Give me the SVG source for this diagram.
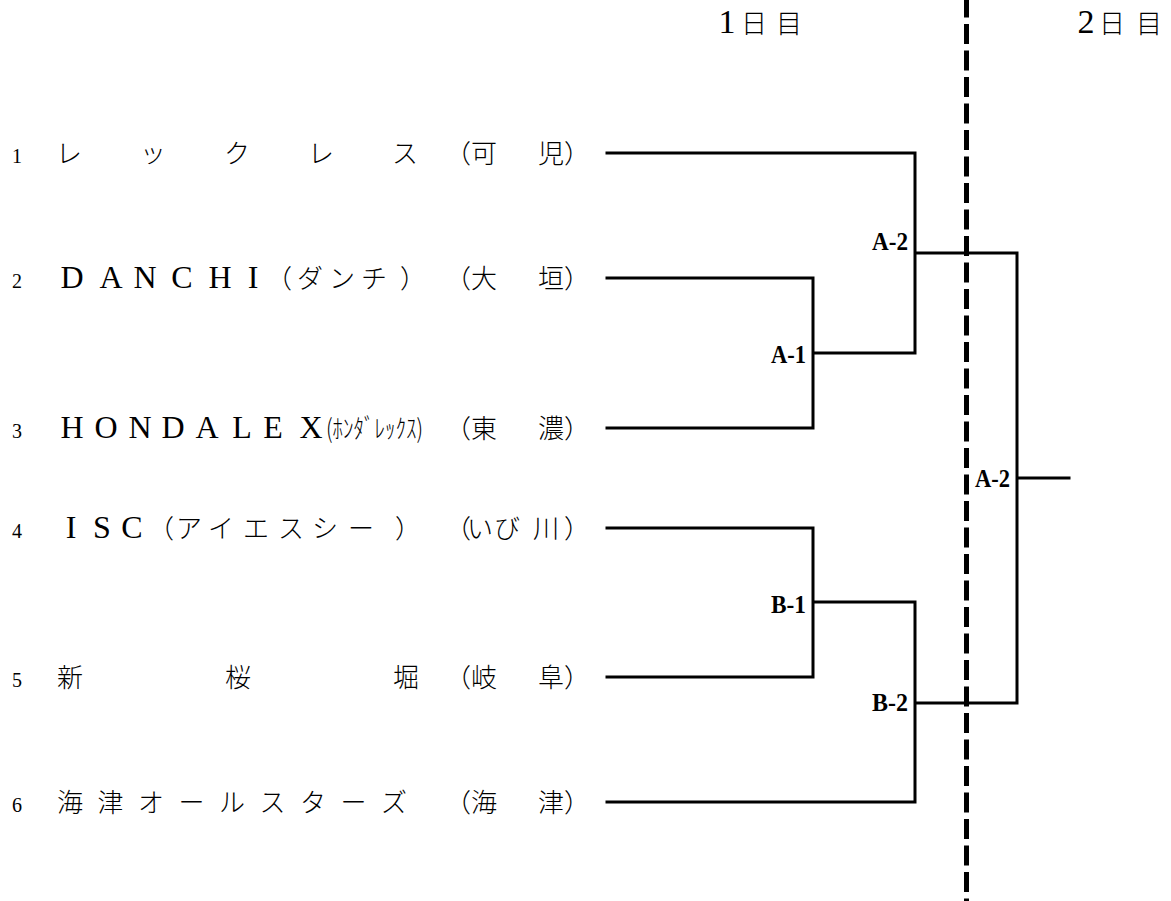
<svg xmlns="http://www.w3.org/2000/svg" width="1171" height="901" viewBox="0 0 1171 901">
<style>
.bg{fill:#fff}
text{fill:#000}
.cjk{font-family:"Noto Sans CJK JP","Liberation Serif",sans-serif;font-size:26px;font-weight:300}
.lat{font-family:"Liberation Serif","Noto Sans CJK JP",serif;font-size:32px;font-weight:normal}
.num{font-family:"Liberation Serif",serif;font-size:20px}
.half{font-family:"Noto Sans CJK JP",sans-serif;font-size:26px;font-weight:300}
.hd{font-family:"Liberation Serif","Noto Sans CJK JP",serif;font-size:34px;font-weight:normal}
.lbl{font-family:"Liberation Serif",serif;font-weight:bold;font-size:25px}
.ln{stroke:#000;stroke-width:3;fill:none;stroke-linecap:square}
.dash{stroke:#000;stroke-width:5;stroke-dasharray:20 6.5;fill:none}
</style>
<rect class="bg" x="0" y="0" width="1171" height="901"/>

<g id="header">
  <text id="day1" class="cjk" y="33" text-anchor="middle"><tspan class="hd" x="727">1</tspan><tspan x="754 789">日目</tspan></text>
  <text id="day2" class="cjk" y="33" text-anchor="middle"><tspan class="hd" x="1086">2</tspan><tspan x="1112 1149">日目</tspan></text>
</g>

<g id="team-1">
  <text class="num" x="17" y="163" text-anchor="middle">1</text>
  <text class="cjk" x="69 153 237 321 405" y="163" text-anchor="middle">レックレス</text>
  <text class="cjk" x="458 484 551 577" y="163" text-anchor="middle">（可児）</text>
</g>
<g id="team-2">
  <text class="num" x="17" y="288" text-anchor="middle">2</text>
  <text class="cjk" y="288" text-anchor="middle"><tspan class="lat" x="72 111 145 182 220 253">DANCHI</tspan><tspan x="279 310 342 374 413">（ダンチ）</tspan></text>
  <text class="cjk" x="458 484 551 577" y="288" text-anchor="middle">（大垣）</text>
</g>
<g id="team-3">
  <text class="num" x="17" y="438" text-anchor="middle">3</text>
  <text class="lat" x="72 106 140 173 207 242 273 311" y="438" text-anchor="middle">HONDALEX</text>
  <text class="half" x="326" y="438" textLength="97" lengthAdjust="spacingAndGlyphs">(ﾎﾝﾀﾞﾚｯｸｽ)</text>
  <text class="cjk" x="458 484 551 577" y="438" text-anchor="middle">（東濃）</text>
</g>
<g id="team-4">
  <text class="num" x="17" y="538" text-anchor="middle">4</text>
  <text class="cjk" y="538" text-anchor="middle"><tspan class="lat" x="71 102 132">ISC</tspan><tspan x="161 189 221 256 291 325 361 408">（アイエスシー）</tspan></text>
  <text class="cjk" x="458 480 507 546 577" y="538" text-anchor="middle">（いび川）</text>
</g>
<g id="team-5">
  <text class="num" x="17" y="687" text-anchor="middle">5</text>
  <text class="cjk" x="70 238 406" y="687" text-anchor="middle">新桜堀</text>
  <text class="cjk" x="458 484 551 577" y="687" text-anchor="middle">（岐阜）</text>
</g>
<g id="team-6">
  <text class="num" x="17" y="812" text-anchor="middle">6</text>
  <text class="cjk" x="70 110.5 151 191.5 232 272.5 313 353.5 394" y="812" text-anchor="middle">海津オールスターズ</text>
  <text class="cjk" x="458 484 551 577" y="812" text-anchor="middle">（海津）</text>
</g>

<g id="match-labels">
  <text id="lbl-a1" class="lbl" x="806" y="363" text-anchor="end" textLength="35" lengthAdjust="spacingAndGlyphs">A-1</text>
  <text id="lbl-a2" class="lbl" x="908" y="250" text-anchor="end" textLength="36" lengthAdjust="spacingAndGlyphs">A-2</text>
  <text id="lbl-b1" class="lbl" x="806" y="613" text-anchor="end" textLength="35" lengthAdjust="spacingAndGlyphs">B-1</text>
  <text id="lbl-b2" class="lbl" x="908" y="711" text-anchor="end" textLength="36" lengthAdjust="spacingAndGlyphs">B-2</text>
  <text id="lbl-final" class="lbl" x="975" y="487" textLength="35" lengthAdjust="spacingAndGlyphs">A-2</text>
</g>

<g id="connectors">
  <path class="ln" d="M607 153H915V353M607 278H813V428H607M813 353H915M915 253H1017V703M607 528H813V677H607M813 602H915V802H607M915 703H1017M1017 478H1069"/>
</g>

<g id="day-divider">
  <line class="dash" x1="966.5" y1="-2.5" x2="966.5" y2="901"/>
</g>
</svg>
